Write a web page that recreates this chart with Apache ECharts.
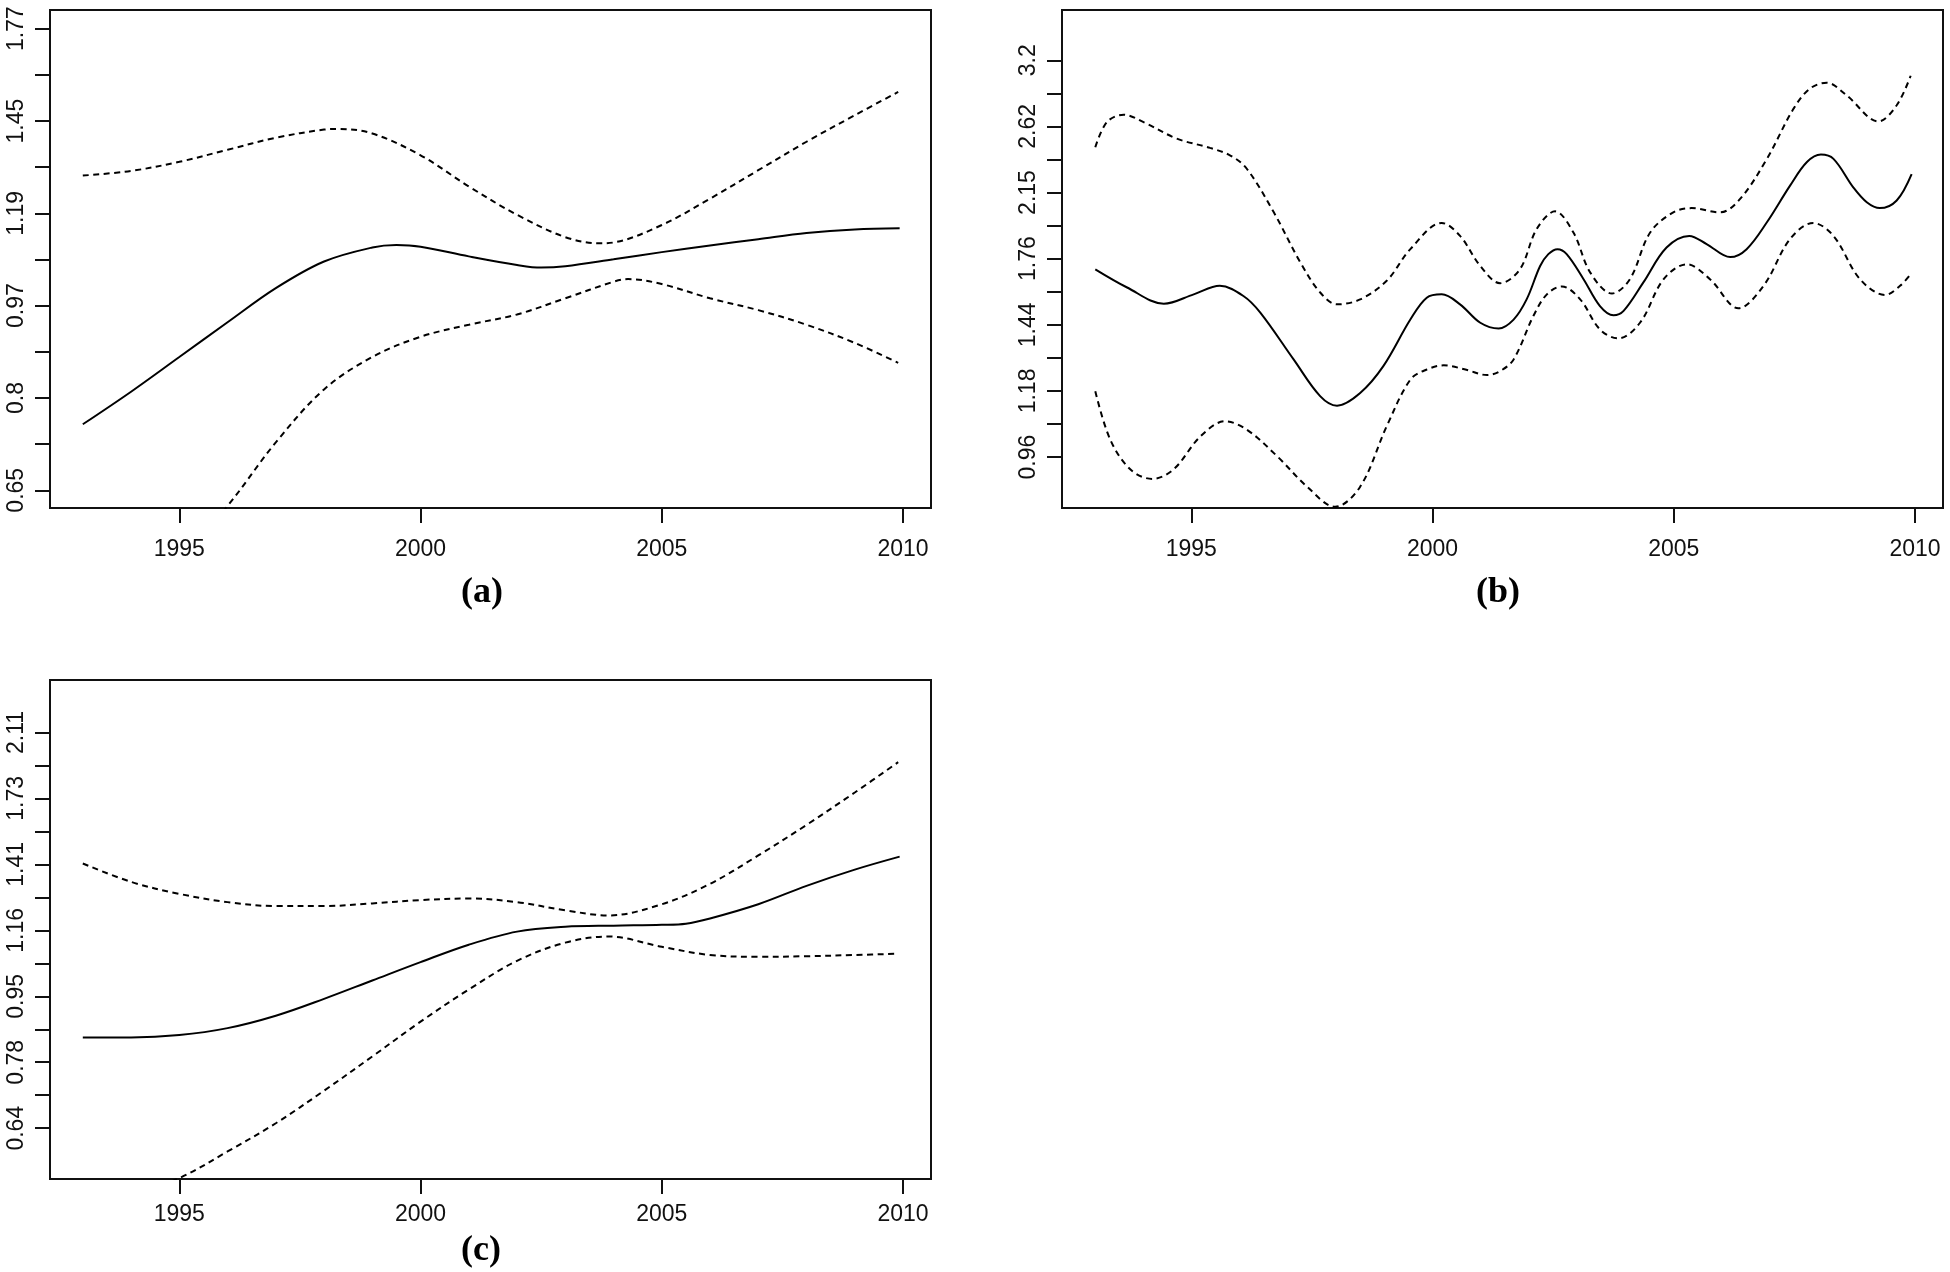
<!DOCTYPE html>
<html>
<head>
<meta charset="utf-8">
<script src="https://cdn.jsdelivr.net/npm/echarts@6/dist/echarts.min.js"></script>
<style>
html,body{margin:0;padding:0;background:#fff;}
#chart{width:1950px;height:1272px;}
</style>
</head>
<body>
<div id="chart"></div>
<script>
// ---------- data (values in the units of the axis labels) ----------
const xTickYears = [1995, 2000, 2005, 2010];
const panelTitles = ['(a)', '(b)', '(c)'];

// tick labels of the three y axes (log scale, every other tick labelled)
const aYLabels = ['0.65', '0.8', '0.97', '1.19', '1.45', '1.77'];
const bYLabels = ['0.96', '1.18', '1.44', '1.76', '2.15', '2.62', '3.2'];
const cYLabels = ['0.64', '0.78', '0.95', '1.16', '1.41', '1.73', '2.11'];

// panel (a)
const aFit = [[1993,0.752],[1994,0.807],[1995,0.870],[1996,0.938],[1997,1.010],[1998,1.070],[1999,1.103],[1999.5,1.109],[2000,1.105],[2001,1.082],[2002,1.062],[2002.5,1.056],[2003,1.059],[2004,1.075],[2005,1.092],[2006,1.108],[2007,1.123],[2008,1.138],[2009,1.147],[2009.93,1.150]];
const aUpper = [[1993,1.289],[1994,1.302],[1995,1.328],[1996,1.363],[1997,1.399],[1998,1.424],[1998.3,1.426],[1999,1.412],[2000,1.347],[2001,1.259],[2002,1.184],[2003,1.128],[2003.7,1.113],[2004,1.115],[2005,1.158],[2006,1.226],[2007,1.304],[2008,1.387],[2009,1.469],[2009.9,1.545]];
const aLower = [[1993,0.43],[1994,0.49],[1995,0.56],[1996,0.63],[1997,0.723],[1998,0.811],[1999,0.870],[2000,0.909],[2001,0.933],[2002,0.954],[2003,0.988],[2004,1.024],[2004.3,1.030],[2005,1.019],[2006,0.988],[2007,0.963],[2008,0.933],[2009,0.897],[2009.9,0.859]];

// panel (b)
const bFit = [[1993.01,1.702],[1993.67,1.611],[1994.43,1.534],[1995.05,1.578],[1995.59,1.619],[1996.08,1.570],[1996.43,1.493],[1997.12,1.296],[1997.67,1.160],[1998.02,1.127],[1998.50,1.171],[1998.98,1.270],[1999.54,1.462],[1999.88,1.562],[2000.19,1.578],[2000.57,1.531],[2000.99,1.448],[2001.37,1.423],[2001.68,1.462],[2001.95,1.554],[2002.23,1.719],[2002.40,1.782],[2002.59,1.809],[2002.78,1.782],[2003.13,1.652],[2003.47,1.523],[2003.75,1.481],[2003.96,1.501],[2004.37,1.636],[2004.85,1.818],[2005.32,1.883],[2005.68,1.837],[2006.17,1.766],[2006.51,1.809],[2006.93,1.962],[2007.41,2.192],[2007.76,2.354],[2008.05,2.408],[2008.31,2.377],[2008.72,2.181],[2009.00,2.085],[2009.27,2.048],[2009.62,2.096],[2009.93,2.270]];
const bUpper = [[1993.01,2.462],[1993.25,2.656],[1993.60,2.716],[1994.01,2.656],[1994.70,2.527],[1995.39,2.457],[1995.81,2.401],[1996.15,2.307],[1996.71,2.022],[1997.26,1.738],[1997.67,1.587],[1998.02,1.531],[1998.50,1.554],[1999.05,1.644],[1999.54,1.809],[2000.19,1.958],[2000.57,1.883],[2000.99,1.719],[2001.40,1.632],[2001.81,1.702],[2002.16,1.923],[2002.54,2.028],[2002.92,1.902],[2003.27,1.685],[2003.72,1.582],[2004.09,1.652],[2004.51,1.902],[2004.99,2.022],[2005.37,2.048],[2005.96,2.022],[2006.37,2.104],[2006.93,2.377],[2007.48,2.765],[2007.82,2.939],[2008.17,2.992],[2008.58,2.881],[2009.24,2.662],[2009.62,2.795],[2009.91,3.056]];
const bLower = [[1993.01,1.177],[1993.32,1.017],[1993.74,0.929],[1994.19,0.903],[1994.63,0.929],[1995.19,1.027],[1995.70,1.075],[1996.15,1.048],[1996.78,0.967],[1997.40,0.882],[1997.98,0.830],[1998.50,0.882],[1999.05,1.059],[1999.54,1.219],[1999.88,1.257],[2000.23,1.273],[2000.70,1.256],[2001.13,1.236],[2001.40,1.251],[2001.68,1.296],[2002.09,1.478],[2002.37,1.578],[2002.68,1.616],[2003.06,1.554],[2003.47,1.419],[2003.85,1.381],[2004.30,1.448],[2004.79,1.652],[2005.27,1.728],[2005.75,1.652],[2006.34,1.513],[2006.86,1.619],[2007.41,1.865],[2007.89,1.958],[2008.31,1.883],[2008.86,1.652],[2009.38,1.575],[2009.69,1.619],[2009.91,1.677]];

// panel (c)
const cFit = [[1993,0.838],[1994,0.838],[1995,0.844],[1996,0.862],[1997,0.895],[1998,0.942],[1999,0.996],[2000,1.053],[2001,1.110],[2002,1.155],[2003,1.172],[2004,1.176],[2005,1.179],[2005.5,1.183],[2006,1.202],[2007,1.255],[2008,1.327],[2009,1.394],[2009.93,1.450]];
const cUpper = [[1993,1.420],[1994,1.343],[1995,1.295],[1996,1.263],[1997,1.248],[1998,1.248],[1999,1.258],[2000,1.271],[2001,1.277],[2002,1.263],[2003,1.232],[2003.9,1.213],[2005,1.255],[2006,1.335],[2007,1.455],[2008,1.596],[2009,1.761],[2009.9,1.931]];
const cLower = [[1993,0.49],[1994,0.52],[1995,0.547],[1996,0.593],[1997,0.646],[1998,0.713],[1999,0.791],[2000,0.879],[2001,0.969],[2002,1.057],[2003,1.117],[2003.9,1.138],[2005,1.103],[2006,1.076],[2007,1.070],[2008,1.072],[2009,1.076],[2009.9,1.080]];

// ---------- layout ----------
const panels = [
  { grid:{left:50, top:10, width:881, height:498}, yMin:-0.4664, yMax:0.6126, tickBase:-0.428, labels:aYLabels,
    series:[aFit,aUpper,aLower], xLabelMargin:30, title:{x:482, y:593} },
  { grid:{left:1062, top:10, width:881, height:498}, yMin:-0.190, yMax:1.316, tickBase:-0.036, labels:bYLabels,
    series:[bFit,bUpper,bLower], xLabelMargin:30, title:{x:1498, y:593} },
  { grid:{left:50, top:680, width:881, height:499}, yMin:-0.606, yMax:0.907, tickBase:-0.452, labels:cYLabels,
    series:[cFit,cUpper,cLower], xLabelMargin:24, title:{x:481, y:1251} }
];

const X_MIN = 1992.32, X_MAX = 2010.58;
const axisFont = '"Liberation Sans", Arial, Helvetica, sans-serif';
const ink = '#111';

const grids = [], xAxes = [], yAxes = [], series = [], graphics = [];
panels.forEach((p, i) => {
  grids.push(Object.assign({show:true, borderColor:ink, borderWidth:2, backgroundColor:'transparent'}, p.grid));
  xAxes.push({
    type:'value', gridIndex:i, min:X_MIN, max:X_MAX, position:'bottom',
    axisLine:{show:false, onZero:false},
    axisTick:{show:true, inside:false, length:15, lineStyle:{color:ink, width:2}, customValues:xTickYears},
    axisLabel:{show:true, customValues:xTickYears, margin:p.xLabelMargin, color:ink, fontSize:23, fontFamily:axisFont,
               formatter:v => String(Math.round(v))},
    splitLine:{show:false}
  });
  const nTicks = 2 * p.labels.length - 1;
  const tickVals = [], labelVals = [];
  for (let k = 0; k < nTicks; k++) {
    const v = +(p.tickBase + 0.1 * k).toFixed(4);
    tickVals.push(v);
    if (k % 2 === 0) labelVals.push(v);
  }
  const labs = p.labels, base = p.tickBase;
  yAxes.push({
    type:'value', gridIndex:i, min:p.yMin, max:p.yMax, position:'left',
    axisLine:{show:false, onZero:false},
    axisTick:{show:true, inside:false, length:15, lineStyle:{color:ink, width:2}, customValues:tickVals},
    axisLabel:{show:true, customValues:labelVals, rotate:90, margin:22, color:ink, fontSize:23, fontFamily:axisFont,
               formatter:v => labs[Math.round((v - base) / 0.2)] || ''},
    splitLine:{show:false}
  });
  const styles = [
    {color:'#000', width:2, type:'solid'},
    {color:'#000', width:2, type:[6,4.5]},
    {color:'#000', width:2, type:[6,4.5]}
  ];
  p.series.forEach((d, j) => {
    series.push({
      type:'line', xAxisIndex:i, yAxisIndex:i,
      data:d.map(pt => [pt[0], Math.log(pt[1])]),
      smooth:0.35, showSymbol:false, symbol:'none', clip:true,
      lineStyle:styles[j], silent:true, z:3
    });
  });
  graphics.push({
    type:'text', x:p.title.x, y:p.title.y,
    style:{text:panelTitles[i], font:'bold 36px "Liberation Serif", "Times New Roman", serif', fill:'#000',
           align:'center', verticalAlign:'middle'}
  });
});

const chart = echarts.init(document.getElementById('chart'), null, {renderer:'canvas'});
chart.setOption({
  animation:false,
  backgroundColor:'#fff',
  grid:grids, xAxis:xAxes, yAxis:yAxes, series:series,
  graphic:graphics
});
</script>
</body>
</html>
